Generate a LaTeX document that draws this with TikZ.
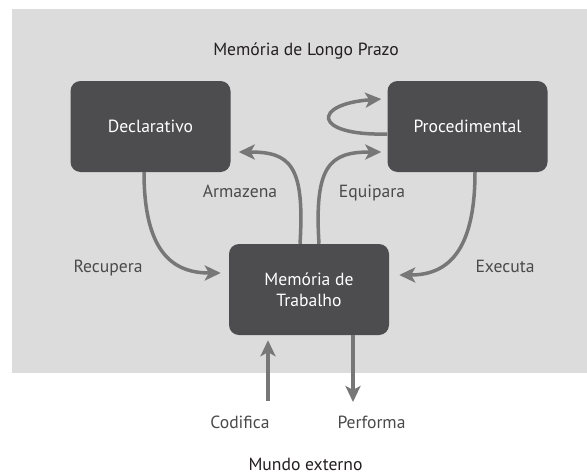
\documentclass[tikz,border=0pt]{standalone}
\usepackage{fontspec}
\setmainfont{PT Sans}
\usetikzlibrary{arrows.meta,positioning}
\definecolor{bggray}{HTML}{DCDCDC}
\definecolor{boxgray}{HTML}{4D4D4F}
\definecolor{linegray}{HTML}{777777}
\definecolor{textgray}{HTML}{4A4A4A}
\definecolor{titlegray}{HTML}{231F20}
\tikzstyle{block} = [rectangle,fill=boxgray,rounded corners=10pt,text=white,minimum width=160pt,minimum height=91pt,align=center,font=\fontsize{17.6}{21}\selectfont]
\tikzstyle{tag} = [text=textgray,inner sep=0pt,anchor=base,font=\fontsize{17.6}{21}\selectfont]
\tikzstyle{title} = [tag,text=titlegray]
\tikzstyle{flow} = [draw=linegray,line width=3.5pt,-{Stealth[length=16pt,width=15pt,inset=4pt]}]

\begin{document}
\begin{tikzpicture}[x=1pt,y=-1pt]
  \useasboundingbox (0,0) rectangle (587,474);
  %long term memory
  \fill[bggray] (12,9) rectangle (587,373);
  \node[title] (ltm) at (306,55) {Memória de Longo Prazo};

  %boxes
  \node[block] (decl) at (150.5,126.5) {Declarativo};
  \node[block] (proc) at (467.5,126.5) {Procedimental};
  \node[block] (wm) at (309,289.5) {Memória de\\Trabalho};

  %labels
  \node[tag] (recupera) at (108,272) {Recupera};
  \node[tag] (executa) at (505,272) {Executa};
  \node[tag] (armazena) at (240,197) {Armazena};
  \node[tag] (equipara) at (372,197) {Equipara};
  \node[tag] (codifica) at (240,428) {Codifica};
  \node[tag] (performa) at (371.5,428) {Performa};
  \node[title] (world) at (305.5,470) {Mundo externo};
  \coordinate (cin) at (268,401);
  \coordinate (pout) at (353,402);

  %draw the arrows
  \draw[flow] ([xshift=-6.5pt]decl.south) .. controls (144,255) and (175,273) .. ([xshift=-8pt,yshift=16.5pt]wm.west);
  \draw[flow] ([xshift=7.5pt]proc.south) .. controls (475,255) and (445,275) .. ([xshift=10pt,yshift=14.5pt]wm.east);
  \draw[flow] ([xshift=-9pt]wm.north) .. controls (305,165) and (290,152) .. ([xshift=8pt,yshift=-25.5pt]decl.east);
  \draw[flow] ([xshift=10pt]wm.north) .. controls (314,165) and (330,152) .. ([xshift=-6pt,yshift=-25.5pt]proc.west);

  %loop
  \draw[flow] ([yshift=-7.5pt]proc.west) .. controls (312,136) and (312,104) .. ([xshift=-6pt,yshift=27.5pt]proc.west);

  %outside world
  \draw[flow] (cin) -- ([xshift=-41pt,yshift=-5pt]wm.south);
  \draw[flow] ([xshift=44pt]wm.south) -- (pout);

\end{tikzpicture}
\end{document}
